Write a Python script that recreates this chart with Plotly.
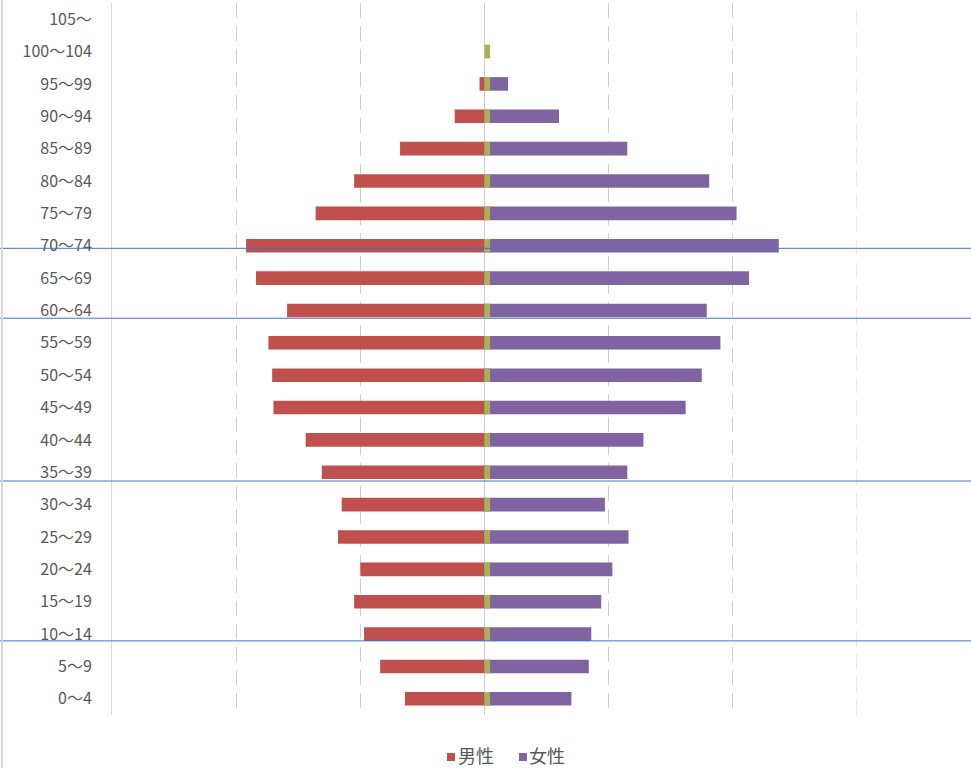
import plotly.graph_objects as go

ages = ["0～4", "5～9", "10～14", "15～19", "20～24", "25～29", "30～34", "35～39",
        "40～44", "45～49", "50～54", "55～59", "60～64", "65～69", "70～74", "75～79",
        "80～84", "85～89", "90～94", "95～99", "100～104", "105～"]
male = [0.64, 0.84, 0.97, 1.05, 1.00, 1.18, 1.15, 1.31, 1.44, 1.70, 1.71, 1.74,
        1.59, 1.84, 1.92, 1.36, 1.05, 0.68, 0.24, 0.04, 0.0, 0.0]
female = [0.70, 0.84, 0.86, 0.94, 1.03, 1.16, 0.97, 1.15, 1.28, 1.62, 1.75, 1.90,
          1.79, 2.13, 2.37, 2.03, 1.81, 1.15, 0.60, 0.19, 0.0, 0.0]
center = [0.045] * 21 + [0.0]
marker_rows = [1.79, 6.73, 11.76, 13.92]
series_names = ["男性", "女性"]
series_colors = ["#C0504D", "#8064A2"]

FONT = "Noto Sans CJK JP"
GRAY = "#595959"
GRID = "#d0d0d0"

fig = go.Figure()
fig.add_trace(go.Bar(y=ages, x=[-v for v in male], orientation="h", name=series_names[0],
                     marker=dict(color=series_colors[0], line=dict(width=0)), hoverinfo="skip"))
fig.add_trace(go.Bar(y=ages, x=female, orientation="h", name=series_names[1],
                     marker=dict(color=series_colors[1], line=dict(width=0)), hoverinfo="skip"))
fig.add_trace(go.Bar(y=ages, x=center, orientation="h", name="", showlegend=False,
                     marker=dict(color="#A9B04F", line=dict(width=0)), hoverinfo="skip"))

W, H = 971, 768
L, R, T, B = 112, 114, 3, 53
pw = W - L - R
ph = H - T - B


def px_x(p):
    return (p - L) / pw


def px_y(p):
    return (H - B - p) / ph


shapes = []
for yr in marker_rows:
    shapes.append(dict(type="line", xref="paper", yref="y",
                       x0=px_x(0), x1=px_x(W), y0=yr, y1=yr,
                       line=dict(color="#4472C4", width=1)))
shapes.append(dict(type="line", xref="paper", yref="paper",
                   x0=px_x(2), x1=px_x(2), y0=px_y(H), y1=px_y(0),
                   line=dict(color="#d9d9d9", width=2)))
shapes.append(dict(type="line", xref="x", yref="paper", x0=3, x1=3, y0=0, y1=1,
                   layer="below", line=dict(color=GRID, width=1, dash="15px,8px")))

# manual legend (Excel style: small square + label)
annotations = []
legend_sq = [447, 519]
legend_tx = [457, 528]
for name, col, sx, tx in zip(series_names, series_colors, legend_sq, legend_tx):
    shapes.append(dict(type="rect", xref="paper", yref="paper",
                       x0=px_x(sx), x1=px_x(sx + 8), y0=px_y(761), y1=px_y(753),
                       fillcolor=col, line=dict(width=0)))
    annotations.append(dict(text=name, xref="paper", yref="paper", x=px_x(tx), y=px_y(755),
                            xanchor="left", yanchor="middle", showarrow=False, borderpad=0,
                            font=dict(family=FONT, size=18, color=GRAY)))

fig.update_layout(
    width=W, height=H,
    margin=dict(l=L, r=R, t=T, b=B, pad=0),
    barmode="overlay", bargap=0.58,
    paper_bgcolor="white", plot_bgcolor="white",
    font=dict(family=FONT, size=16, color=GRAY),
    showlegend=False,
    shapes=shapes,
    annotations=annotations,
    xaxis=dict(range=[-3, 3], dtick=1, showticklabels=False, showgrid=True,
               gridcolor=GRID, griddash="15px,8px", gridwidth=1,
               zeroline=True, zerolinecolor=GRID, zerolinewidth=1,
               showline=False, fixedrange=True),
    yaxis=dict(categoryorder="array", categoryarray=ages, showgrid=False,
               showline=True, linecolor="#d9d9d9", linewidth=1, ticks="",
               ticklabelstandoff=16, tickfont=dict(family=FONT, size=16, color=GRAY),
               range=[-0.5, 21.5], zeroline=False, fixedrange=True),
)

fig.write_html("out.html", config={"displayModeBar": False},
               post_script="document.body.style.margin='0';document.body.style.overflow='hidden';")
